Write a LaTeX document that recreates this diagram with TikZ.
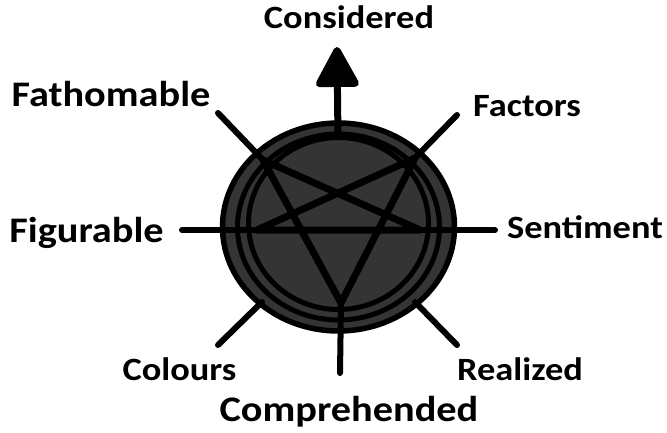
\documentclass[tikz,border=0pt]{standalone}
\usepackage{fontspec}
\setmainfont{Carlito}[FakeStretch=1.12]
\usetikzlibrary{arrows.meta}
\definecolor{sealgrey}{RGB}{52,52,52}

\begin{document}
\begin{tikzpicture}[x=1pt, y=-1pt,
        lbl/.style={font=\fontsize{32.5}{38}\selectfont\bfseries, anchor=base},
        lblbig/.style={font=\fontsize{36}{42}\selectfont\bfseries, anchor=base},
        spoke/.style={line width=6pt, line cap=round},
        arrowspoke/.style={line width=7pt, -{Triangle[length=44pt, width=46pt, round]}},
        star/.style={line width=7pt, line cap=round, line join=round},
        ring/.style={line width=5pt}
    ]
        \useasboundingbox (0,0) rectangle (667,433);
        % the seal
        \coordinate (c) at (338.5,227);
        \draw[fill=sealgrey, line width=5.5pt] (c) ellipse [x radius=116, y radius=104];
        \draw[ring] (c) ellipse [x radius=101, y radius=93];
        \draw[ring] (338.5,223.5) ellipse [x radius=90, y radius=86];
        % star points
        \coordinate (vUL) at (263,160);
        \coordinate (vUR) at (415,158);
        \coordinate (vL)  at (257,230);
        \coordinate (vR)  at (420,230);
        \coordinate (vB)  at (341,303);
        \draw[star] (vUL) -- (vR) (vUR) -- (vL) (vL) -- (vR) (vUL) -- (vB) -- (vUR);
        % spoke ends
        \coordinate (sUL) at (218,113);
        \coordinate (sUR) at (457,115);
        \coordinate (sL)  at (182,230);
        \coordinate (sR)  at (495,230);
        \coordinate (sLL) at (218,345);
        \coordinate (eLL) at (262,302);
        \coordinate (sLR) at (457,345);
        \coordinate (eLR) at (415,302);
        \coordinate (sB)  at (340,373);
        \coordinate (sTop) at (338,140);
        \coordinate (tip) at (337,47);
        \foreach \a/\b in {sUL/vUL, sUR/vUR, sL/vL, sR/vR, sLL/eLL, sLR/eLR, sB/vB}
            \draw[spoke] (\a) -- (\b);
        \draw[arrowspoke] (sTop) -- (tip);
        % labels
        \foreach \n/\x/\y/\t in {considered/349/29/Considered, factors/527/117/Factors,
            sentiment/585/238/Sentiment, colours/179.5/380/Colours, realized/520/380/Realized}
            \node[lbl] (\n) at (\x,\y) {\t};
        \foreach \n/\x/\y/\t in {fathomable/111/107/Fathomable, figurable/86.5/242/Figurable,
            comprehended/349/421/Comprehended}
            \node[lblbig] (\n) at (\x,\y) {\t};
    \end{tikzpicture}
\end{document}
